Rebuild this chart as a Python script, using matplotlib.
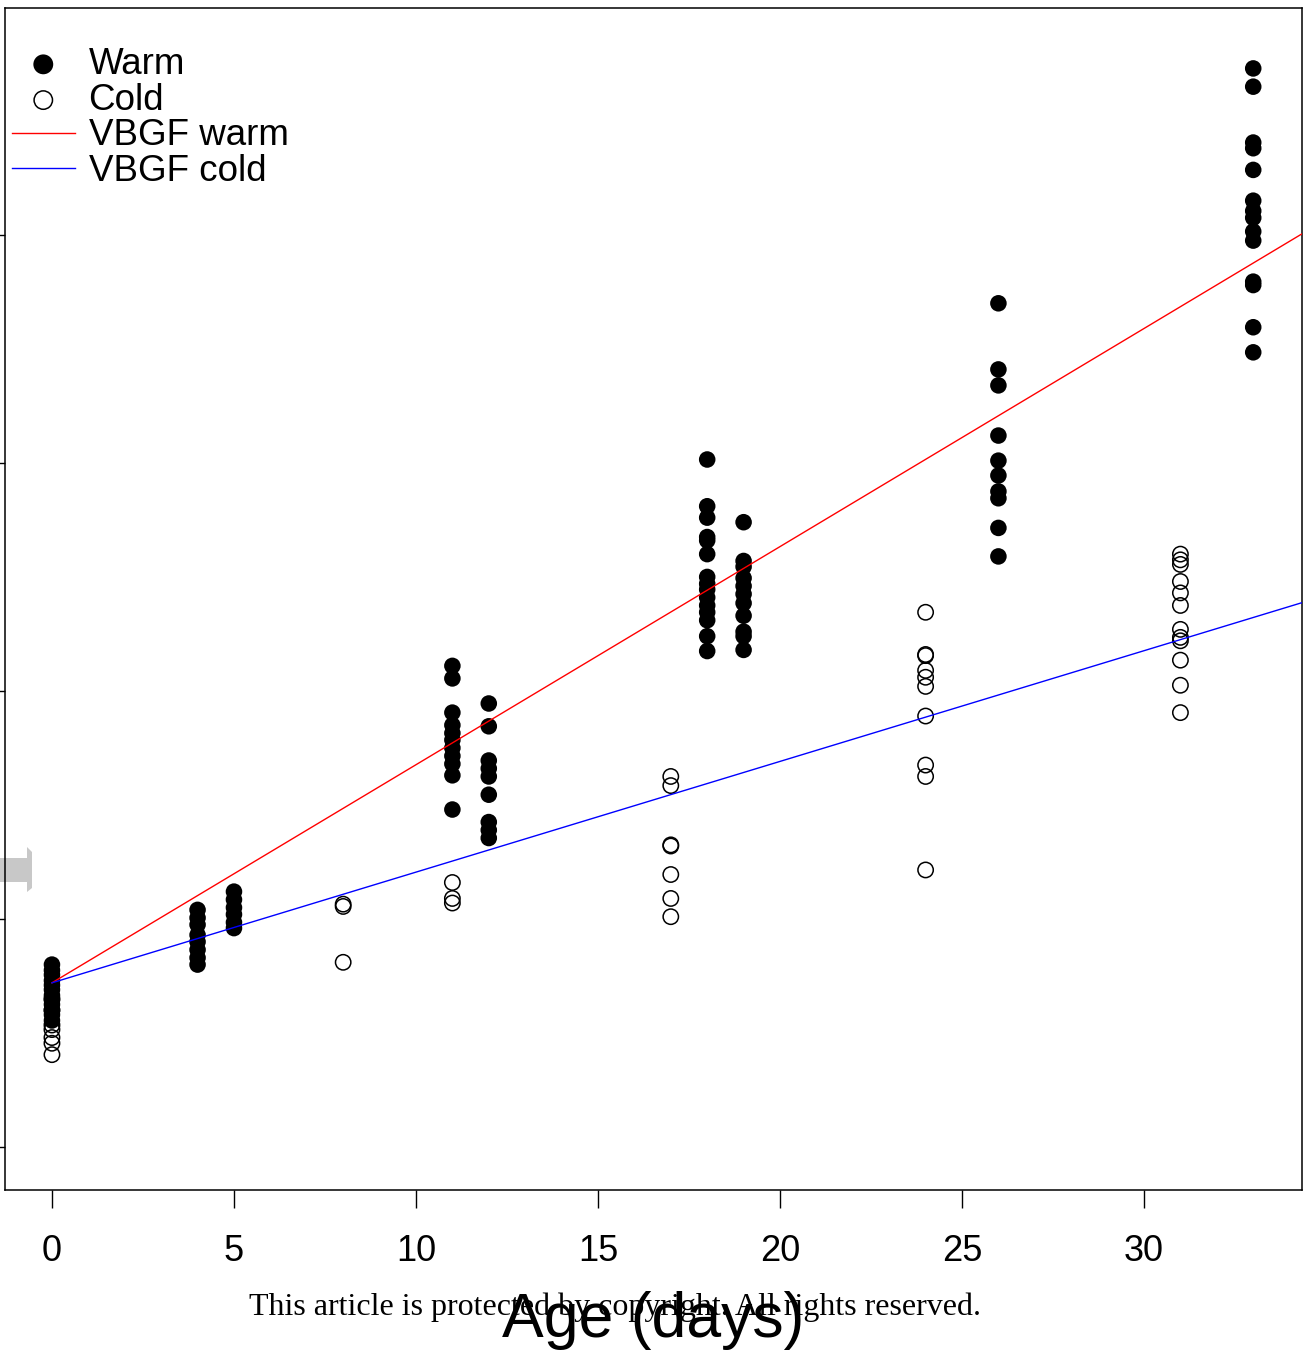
import numpy as np
import matplotlib.pyplot as plt
from matplotlib.patches import Polygon

plt.rcParams['font.family'] = ['Liberation Sans', 'DejaVu Sans']

# --- data (length) ---
warm_days = [0, 4, 5, 11, 12, 18, 19, 26, 33]
warm_len = [
    [5.60, 5.55, 5.51, 5.46, 5.42, 5.38, 5.33, 5.29, 5.25, 5.20, 5.16, 5.11],
    [6.08, 6.01, 5.95, 5.86, 5.80, 5.73, 5.66, 5.60],
    [6.24, 6.17, 6.10, 6.04, 5.97, 5.92],
    [8.22, 8.11, 7.81, 7.70, 7.63, 7.57, 7.50, 7.43, 7.36, 7.26, 6.96],
    [7.89, 7.69, 7.39, 7.32, 7.25, 7.09, 6.85, 6.78, 6.71],
    [10.03, 9.62, 9.52, 9.35, 9.32, 9.20, 9.00, 8.94, 8.89, 8.82, 8.75, 8.69, 8.62, 8.48, 8.35],
    [9.48, 9.14, 9.09, 8.99, 8.92, 8.85, 8.77, 8.66, 8.52, 8.48, 8.36],
    [11.40, 10.82, 10.68, 10.24, 10.02, 9.89, 9.75, 9.69, 9.43, 9.18],
    [13.46, 13.30, 12.81, 12.76, 12.57, 12.30, 12.21, 12.15, 12.03, 11.95, 11.59, 11.56, 11.19, 10.97],
]
cold_days = [0, 8, 11, 17, 24, 31]
cold_len = [
    [5.30, 5.20, 5.07, 5.03, 4.96, 4.91, 4.81],
    [6.13, 6.11, 5.62],
    [6.32, 6.18, 6.14],
    [7.25, 7.17, 6.65, 6.64, 6.39, 6.18, 6.02],
    [8.69, 8.32, 8.31, 8.18, 8.12, 8.04, 7.78, 7.35, 7.25, 6.43],
    [9.20, 9.15, 9.11, 8.96, 8.86, 8.75, 8.54, 8.47, 8.44, 8.27, 8.05, 7.81],
]

# fitted growth curves
L0 = 5.44
rate_warm = 0.1913
rate_cold = 0.0971

x_ticks = [0, 5, 10, 15, 20, 25, 30]
y_ticks = [4, 6, 8, 10, 12]

W, H = 1303, 1354
fig = plt.figure(figsize=(W / 100, H / 100), dpi=100)
ax = fig.add_axes([5 / W, 1 - 1190 / H, 1297 / W, 1182 / H])
ax.patch.set_facecolor('none')

wx = np.concatenate([[d] * len(v) for d, v in zip(warm_days, warm_len)])
wy = np.concatenate(warm_len)
cx = np.concatenate([[d] * len(v) for d, v in zip(cold_days, cold_len)])
cy = np.concatenate(cold_len)

ax.scatter(wx, wy, s=142, c='black', edgecolors='none', label='Warm', zorder=2)
ax.scatter(cx, cy, s=122, facecolors='none', edgecolors='black', linewidths=1.1,
           label='Cold', zorder=2)

t = np.linspace(0, 36, 100)
ax.plot(t, L0 + rate_warm * t, color='red', lw=1.0, label='VBGF warm', zorder=3)
ax.plot(t, L0 + rate_cold * t, color='blue', lw=1.0, label='VBGF cold', zorder=3)

ax.set_xlim(-1.29, 34.34)
ax.set_ylim(3.623, 13.99)
ax.set_xticks(x_ticks)
ax.set_yticks(y_ticks)
ax.set_yticklabels([])
ax.tick_params(axis='both', direction='out', length=13, width=1.0, labelsize=26, pad=19)
for sp in ax.spines.values():
    sp.set_linewidth(1.1)

ax.set_xlabel('Age (days)', fontsize=45)
ax.xaxis.set_label_coords(0.5, -0.1244)
ax.xaxis.label.set_va('baseline')

leg = ax.legend(loc='upper left', bbox_to_anchor=(0.0054, 0.967), frameon=False,
                fontsize=26.5, borderpad=0, borderaxespad=0, labelspacing=0.02,
                handlelength=1.7, handletextpad=0.38, markerscale=1.2)

# watermark text along the bottom
fig.text(615 / W, 1 - 1315 / H, 'This article is protected by copyright. All rights reserved.',
         family=['Liberation Serif', 'DejaVu Serif'], fontsize=23, ha='center', va='baseline')

# grey tab on the left edge
tab = [(0, 858), (27, 858), (27, 847), (32, 852), (32, 888), (27, 892), (27, 882), (0, 882)]
fig.patches.append(Polygon([(px / W, 1 - py / H) for px, py in tab], closed=True,
                           transform=fig.transFigure, facecolor='#c8c8c8',
                           edgecolor='none', zorder=-1))

fig.savefig('out.png', dpi=100)
